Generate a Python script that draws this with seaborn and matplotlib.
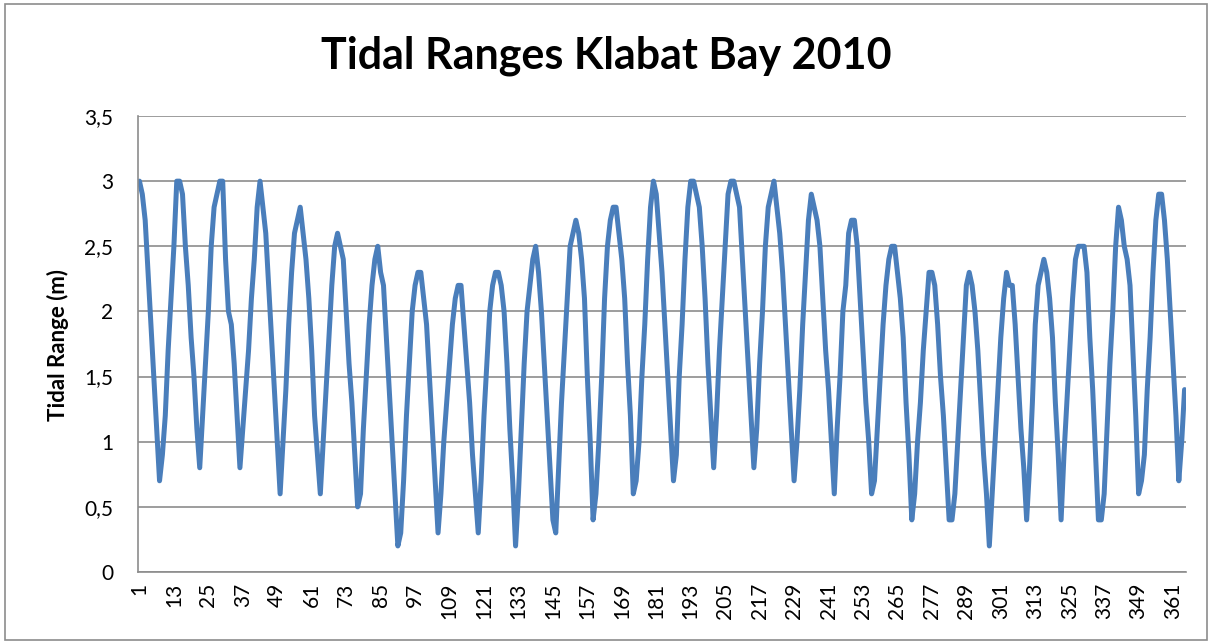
import numpy as np
import pandas as pd
import matplotlib
matplotlib.use("Agg")
import matplotlib.pyplot as plt
import seaborn as sns
from matplotlib.ticker import FuncFormatter
from matplotlib.patches import Rectangle

# Daily tidal range (m), Klabat Bay 2010, one list per month
jan = [3.0, 2.9, 2.7, 2.3, 1.9, 1.5, 1.1, 0.7, 0.9, 1.2, 1.7, 2.1, 2.5, 3.0, 3.0, 2.9,
       2.5, 2.2, 1.8, 1.5, 1.1, 0.8, 1.2, 1.6, 2.0, 2.5, 2.8, 2.9, 3.0, 3.0, 2.4]
feb = [2.0, 1.9, 1.6, 1.2, 0.8, 1.1, 1.4, 1.7, 2.1, 2.4, 2.8, 3.0, 2.8, 2.6,
       2.2, 1.8, 1.4, 1.0, 0.6, 1.0, 1.4, 1.9, 2.3, 2.6, 2.7, 2.8, 2.6, 2.4]
mar = [2.1, 1.7, 1.2, 0.9, 0.6, 1.0, 1.4, 1.8, 2.2, 2.5, 2.6, 2.5, 2.4, 2.0, 1.6, 1.3,
       0.9, 0.5, 0.6, 1.1, 1.5, 1.9, 2.2, 2.4, 2.5, 2.3, 2.2, 1.8, 1.4, 1.0, 0.6]
apr = [0.2, 0.3, 0.7, 1.2, 1.6, 2.0, 2.2, 2.3, 2.3, 2.1, 1.9, 1.5, 1.1, 0.7, 0.3,
       0.6, 1.0, 1.3, 1.6, 1.9, 2.1, 2.2, 2.2, 1.9, 1.6, 1.3, 0.9, 0.6, 0.3, 0.7]
may = [1.2, 1.6, 2.0, 2.2, 2.3, 2.3, 2.2, 2.0, 1.6, 1.1, 0.7, 0.2, 0.6, 1.1, 1.6, 2.0,
       2.2, 2.4, 2.5, 2.3, 2.0, 1.6, 1.2, 0.8, 0.4, 0.3, 0.8, 1.3, 1.7, 2.1, 2.5]
jun = [2.6, 2.7, 2.6, 2.4, 2.1, 1.5, 1.0, 0.4, 0.6, 1.0, 1.5, 2.1, 2.5, 2.7, 2.8,
       2.8, 2.6, 2.4, 2.1, 1.6, 1.2, 0.6, 0.7, 1.0, 1.5, 1.9, 2.4, 2.8, 3.0, 2.9]
jul = [2.6, 2.3, 1.9, 1.5, 1.1, 0.7, 0.9, 1.5, 1.9, 2.4, 2.8, 3.0, 3.0, 2.9, 2.8, 2.5,
       2.1, 1.6, 1.2, 0.8, 1.2, 1.7, 2.1, 2.5, 2.9, 3.0, 3.0, 2.9, 2.8, 2.4, 2.0]
aug = [1.6, 1.2, 0.8, 1.1, 1.6, 2.0, 2.5, 2.8, 2.9, 3.0, 2.8, 2.6, 2.3, 1.9, 1.5, 1.1,
       0.7, 1.0, 1.4, 1.9, 2.3, 2.7, 2.9, 2.8, 2.7, 2.5, 2.1, 1.7, 1.4, 1.0, 0.6]
sep = [1.1, 1.5, 2.0, 2.2, 2.6, 2.7, 2.7, 2.5, 2.1, 1.7, 1.3, 1.0, 0.6, 0.7, 1.1,
       1.5, 1.9, 2.2, 2.4, 2.5, 2.5, 2.3, 2.1, 1.8, 1.3, 0.9, 0.4, 0.6, 1.0, 1.3]
oct = [1.7, 2.0, 2.3, 2.3, 2.2, 1.9, 1.5, 1.2, 0.8, 0.4, 0.4, 0.6, 1.0, 1.4, 1.8, 2.2,
       2.3, 2.2, 2.0, 1.7, 1.3, 0.9, 0.6, 0.2, 0.6, 1.0, 1.4, 1.8, 2.1, 2.3, 2.2]
nov = [2.2, 1.9, 1.5, 1.1, 0.8, 0.4, 0.8, 1.3, 1.9, 2.2, 2.3, 2.4, 2.3, 2.1, 1.8,
       1.3, 0.9, 0.4, 0.9, 1.3, 1.7, 2.1, 2.4, 2.5, 2.5, 2.5, 2.3, 1.8, 1.4, 0.9]
dec = [0.4, 0.4, 0.6, 1.1, 1.6, 2.0, 2.5, 2.8, 2.7, 2.5, 2.4, 2.2, 1.7, 1.2, 0.6, 0.7,
       0.9, 1.4, 1.8, 2.3, 2.7, 2.9, 2.9, 2.7, 2.4, 2.0, 1.6, 1.2, 0.7, 1.0, 1.4]

tidal_range = jan + feb + mar + apr + may + jun + jul + aug + sep + oct + nov + dec
days = list(range(1, len(tidal_range) + 1))
x_ticks = list(range(1, 366, 12))
y_ticks = [0, 0.5, 1, 1.5, 2, 2.5, 3, 3.5]

df = pd.DataFrame({"day": days, "range": tidal_range})

sns.set_style("white")
plt.rcParams["font.family"] = ["Lato", "DejaVu Sans"]
plt.rcParams["text.color"] = "black"
plt.rcParams["xtick.color"] = "black"
plt.rcParams["ytick.color"] = "black"

fig = plt.figure(figsize=(12.12, 6.44), dpi=100)
ax = fig.add_axes([138 / 1212, 1 - 572 / 644, (1186 - 138) / 1212, (572 - 116) / 644])

sns.lineplot(data=df, x="day", y="range", ax=ax, color="#4A7EBB", linewidth=3.6)

ax.set_xlim(0.5, len(days) + 0.5)
ax.set_ylim(0, 3.5)
ax.set_yticks(y_ticks)
ax.set_xticks(x_ticks)
ax.yaxis.set_major_formatter(FuncFormatter(lambda v, p: ("%g" % v).replace(".", ",")))
ax.set_xticklabels([str(t) for t in x_ticks], rotation=90, fontsize=15)
ax.tick_params(axis="y", labelsize=15, length=0, pad=18)
ax.tick_params(axis="x", length=0, pad=8)

ax.grid(axis="y", color="#8c8c8c", linewidth=1.2)
ax.set_axisbelow(True)
for side in ["top", "right"]:
    ax.spines[side].set_visible(False)
for side in ["left", "bottom"]:
    ax.spines[side].set_color("#8c8c8c")
    ax.spines[side].set_linewidth(1.2)

ax.set_xlabel("")
ax.set_ylabel("")
fig.text(58 / 1212, 1 - 345 / 644, "Tidal Range (m)", rotation=90, ha="center", va="center",
         fontsize=16, fontweight="bold")

fig.text(0.5, 1 - 56 / 644, "Tidal Ranges Klabat Bay 2010", ha="center", va="center",
         fontsize=31, fontweight="bold")

fig.patches.append(Rectangle((5 / 1212, 4 / 644), 1202 / 1212, 636 / 644, fill=False,
                             edgecolor="#8c8c8c", linewidth=1.2, transform=fig.transFigure))

fig.savefig("out.png", dpi=100)
